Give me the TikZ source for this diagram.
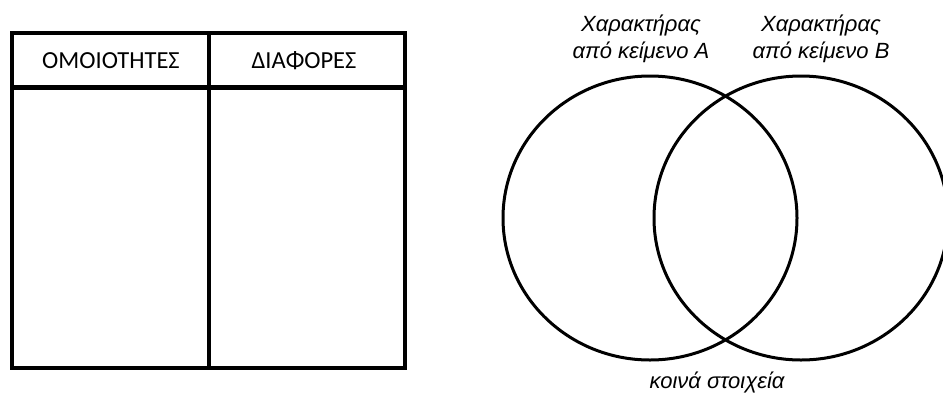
\documentclass[tikz,border=0pt]{standalone}
\usepackage{fontspec}
\setmainfont{Carlito}
\newfontfamily\arialfont{Liberation Sans}
\usepackage{tikz}

\begin{document}
\begin{tikzpicture}[x=1pt,y=-1pt]
\def \rx {147pt}
\def \ry {142pt}
\useasboundingbox (0,0) rectangle (943,392);

% table
\draw[line width=4.5pt] (12,33) rectangle (405,368);
\draw[line width=4.5pt] (209,33) -- (209,368);
\draw[line width=4.5pt] (12,87.5) -- (405,87.5);
\node at (111,61) (hsim) {\fontsize{24.5}{29}\selectfont ΟΜΟΙΟΤΗΤΕΣ};
\node at (304,61) (hdiff) {\fontsize{24.5}{29}\selectfont ΔΙΑΦΟΡΕΣ};

% venn
\coordinate (ca) at (650,218);
\coordinate (cb) at (801,218);
\draw[line width=3pt] (ca) ellipse [x radius=\rx, y radius=\ry];
\draw[line width=3pt] (cb) ellipse [x radius=\rx, y radius=\ry];

\node[align=center, font=\arialfont\itshape\fontsize{22}{27}\selectfont] at (641,39) (ta) {Χαρακτήρας\\από κείμενο Α};
\node[align=center, font=\arialfont\itshape\fontsize{22}{27}\selectfont] at (821,39) (tb) {Χαρακτήρας\\από κείμενο Β};
\node[font=\arialfont\itshape\fontsize{22}{27}\selectfont] at (717,382) (common) {κοινά στοιχεία};

\end{tikzpicture}
\end{document}
